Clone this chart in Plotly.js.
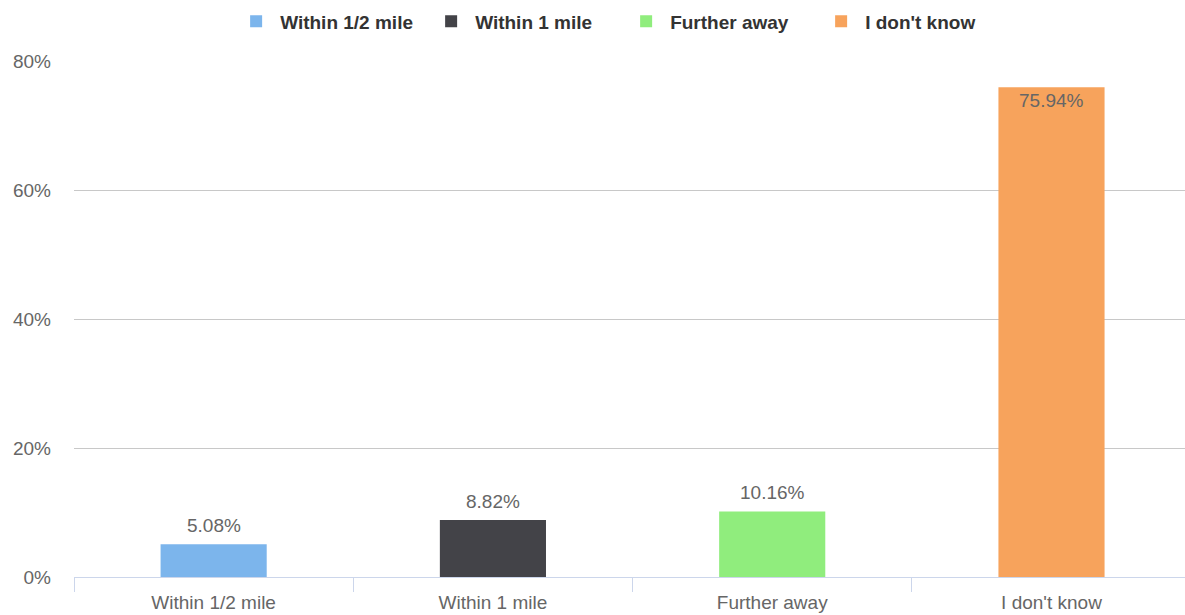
<!DOCTYPE html>
<html>
<head>
<meta charset="utf-8">
<script src="https://cdn.plot.ly/plotly-3.0.1.min.js"></script>
<style>
html,body{margin:0;padding:0;background:#fff;overflow:hidden;}
#chart{width:1185px;height:615px;}
</style>
</head>
<body>
<div id="chart"></div>
<script>
const categories = ["Within 1/2 mile", "Within 1 mile", "Further away", "I don't know"];
const values = [5.08, 8.82, 10.16, 75.94];
const colors = ["#7cb5ec", "#434348", "#90ed7d", "#f7a35c"];
const yTicks = [0, 20, 40, 60, 80];

const FONT = '"Liberation Sans", Arial, Helvetica, sans-serif';

const traces = categories.map((c, i) => ({
  type: 'bar',
  name: c,
  x: [c],
  y: [values[i]],
  width: 0.38,
  marker: {color: colors[i], line: {width: 0}},
  hoverinfo: 'skip'
}));

const annotations = categories.map((c, i) => {
  const inside = values[i] > 70;
  return {
    x: c, y: values[i], xref: 'x', yref: 'y',
    text: values[i].toFixed(2) + '%',
    showarrow: false,
    yanchor: inside ? 'top' : 'bottom',
    yshift: inside ? -1 : 6,
    font: {family: FONT, size: 19, color: '#666666'}
  };
});

const layout = {
  width: 1185, height: 615,
  margin: {l: 74, r: 0, t: 61, b: 38},
  paper_bgcolor: '#ffffff', plot_bgcolor: '#ffffff',
  font: {family: FONT, size: 19, color: '#666666'},
  barmode: 'overlay',
  showlegend: true,
  legend: {
    orientation: 'h', x: 0.525, xanchor: 'center', xref: 'container',
    y: 0.996, yanchor: 'top', yref: 'container',
    itemwidth: 38,
    entrywidth: 142, entrywidthmode: 'pixels',
    font: {family: FONT, size: 19, color: '#333333', weight: 'bold'},
    itemclick: false, itemdoubleclick: false
  },
  xaxis: {
    type: 'category',
    categoryorder: 'array', categoryarray: categories,
    range: [-0.5, 3.478],
    tickson: 'boundaries',
    ticks: 'outside', ticklen: 14, tickcolor: '#ccd6eb', tickwidth: 1,
    showline: true, linecolor: '#ccd6eb', linewidth: 1,
    showgrid: false, zeroline: false,
    ticklabelstandoff: 8,
    tickfont: {family: FONT, size: 19, color: '#666666'},
    fixedrange: true
  },
  yaxis: {
    range: [0, 80],
    tickvals: yTicks,
    ticktext: yTicks.map(v => v + '%'),
    showgrid: true, gridcolor: '#c8c8c8', gridwidth: 1,
    zeroline: false, showline: false, ticks: '',
    ticklabelstandoff: 22,
    tickfont: {family: FONT, size: 19, color: '#666666'},
    fixedrange: true
  },
  annotations: annotations
};

Plotly.newPlot('chart', traces, layout, {displayModeBar: false, staticPlot: true});
</script>
</body>
</html>
